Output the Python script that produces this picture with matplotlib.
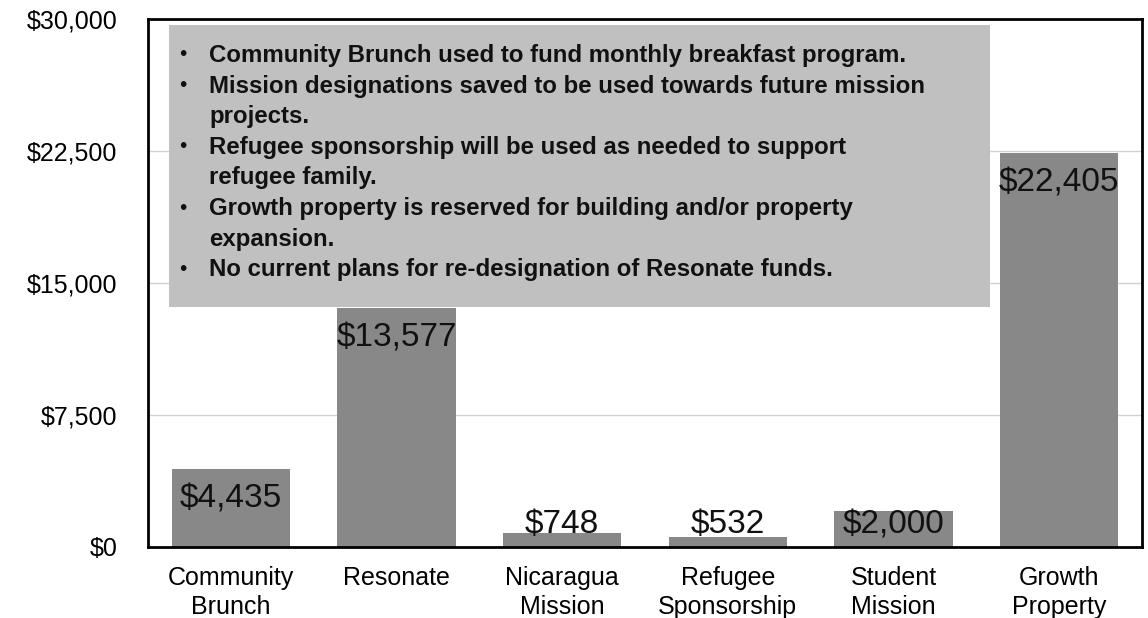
import matplotlib
matplotlib.use("Agg")
import matplotlib.pyplot as plt
from matplotlib.patches import Rectangle
from matplotlib.ticker import FuncFormatter

plt.rcParams["font.family"] = ["Liberation Sans", "DejaVu Sans"]

# Data
categories = ["Community\nBrunch", "Resonate", "Nicaragua\nMission",
              "Refugee\nSponsorship", "Student\nMission", "Growth\nProperty"]
amounts = [4435, 13577, 748, 532, 2000, 22405]
yticks = [0, 7500, 15000, 22500, 30000]

notes = [
    ["Community Brunch used to fund monthly breakfast program."],
    ["Mission designations saved to be used towards future mission", "projects."],
    ["Refugee sponsorship will be used as needed to support", "refugee family."],
    ["Growth property is reserved for building and/or property", "expansion."],
    ["No current plans for re-designation of Resonate funds."],
]

W, H = 1148, 618
fig = plt.figure(figsize=(W / 100, H / 100), dpi=100)
ax_l, ax_r, ax_t, ax_b = 148, 1142, 19, 546.5
ax = fig.add_axes([ax_l / W, (H - ax_b) / H, (ax_r - ax_l) / W, (ax_b - ax_t) / H])

x = list(range(len(categories)))
ax.bar(x, amounts, width=0.716, color="#888888", zorder=2)
ax.set_xlim(-0.5, len(categories) - 0.5)
ax.set_ylim(0, 30000)
ax.set_yticks(yticks)
ax.yaxis.set_major_formatter(FuncFormatter(lambda v, p: f"${v:,.0f}"))
ax.set_xticks(x)
ax.set_xticklabels(categories, fontsize=18, linespacing=1.25)
ax.tick_params(axis="x", length=0, pad=14)
ax.tick_params(axis="y", length=0, pad=22, labelsize=18)
for yv in yticks[1:-1]:
    ax.axhline(yv, color="#d2d2d2", lw=1, zorder=1)
for s in ax.spines.values():
    s.set_linewidth(2)
    s.set_color("black")

# value labels: inside top of bar, clamped above the base
ax_h_pt = (ax_b - ax_t) * 0.72
for xi, v in zip(x, amounts):
    h_pt = v / 30000 * ax_h_pt
    off = max(h_pt - 28, 9.7)
    ax.annotate(f"${v:,}", (xi, 0), xytext=(0, off), textcoords="offset points",
                ha="center", va="baseline", fontsize=24, color="#111111", zorder=4)

# notes box
def fx(px):
    return (px - ax_l) / (ax_r - ax_l)

def fy(py):
    return (ax_b - py) / (ax_b - ax_t)

ax.add_patch(Rectangle((fx(169), fy(306.5)), fx(990) - fx(169), fy(25) - fy(306.5),
                       transform=ax.transAxes, facecolor="#c0c0c0", edgecolor="none", zorder=3))
base = 62
step = 30.6
i = 0
for note in notes:
    for j, line in enumerate(note):
        yb = base + step * i
        if j == 0:
            ax.text(fx(183), fy(yb - 7), "\u2022", transform=ax.transAxes, fontsize=15,
                    ha="center", va="center", color="#111111", zorder=4)
        ax.text(fx(209), fy(yb), line, transform=ax.transAxes, fontsize=17.3,
                fontweight="bold", ha="left", va="baseline", color="#111111", zorder=4)
        i += 1

fig.savefig("out.png", dpi=100)
